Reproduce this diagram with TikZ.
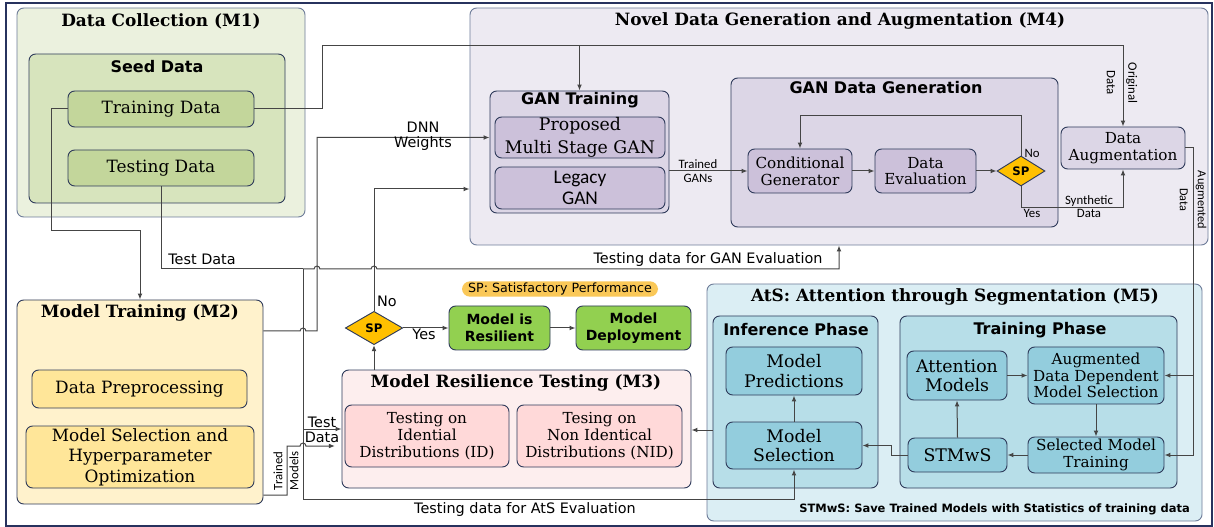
\documentclass[tikz,border=0pt]{standalone}
\usepackage{fontspec}
\setmainfont{DejaVu Serif}
\newfontfamily\calfont{Carlito}
\newfontfamily\dvsans{DejaVu Sans}
\usetikzlibrary{arrows.meta,shapes.geometric}

\definecolor{edgeout}{HTML}{6E7C99}
\definecolor{edgein}{HTML}{2E3A5A}
\definecolor{wirecol}{HTML}{454545}
\definecolor{framecol}{HTML}{27325E}
\definecolor{mAfill}{HTML}{EBF1DE}
\definecolor{mAseed}{HTML}{D7E4BD}
\definecolor{mAnode}{HTML}{C3D69B}
\definecolor{mBfill}{HTML}{FFF2CC}
\definecolor{mBnode}{HTML}{FFE699}
\definecolor{mCfill}{HTML}{FDEEEE}
\definecolor{mCnode}{HTML}{FFD9D9}
\definecolor{mDfill}{HTML}{EDEAF2}
\definecolor{mDsub}{HTML}{DCD6E6}
\definecolor{mDnode}{HTML}{CCC1DA}
\definecolor{mEfill}{HTML}{DBEEF4}
\definecolor{mEsub}{HTML}{B7DEE8}
\definecolor{mEnode}{HTML}{93CDDD}
\definecolor{okgreen}{HTML}{92D050}
\definecolor{spgold}{HTML}{FFC000}
\definecolor{pillcol}{HTML}{FAC858}

% a rounded box given by its corners (x1,y1) and (x2,y2), in pixel units
\newcommand\boxat[7]{%
  \pgfmathsetmacro\boxwd{(#5-#3)*0.75}%
  \pgfmathsetmacro\boxht{(#6-#4)*0.75}%
  \node[#2, minimum width=\boxwd pt, minimum height=\boxht pt]
    (#1) at ({(#3+#5)/2},{(#4+#6)/2}) {#7};}

\begin{document}
\begin{tikzpicture}[x=0.75pt,y=-0.75pt,
  box/.style={draw=edgein, line width=0.7pt, rounded corners=5pt, inner sep=0pt, align=center},
  panel/.style={box, draw=edgeout},
  ttl/.style={font=\fontsize{12.7}{14}\selectfont\bfseries},
  sttl/.style={font=\dvsans\fontsize{12}{14}\selectfont\bfseries},
  ser/.style={font=\fontsize{12.7}{14.5}\selectfont},
  serb/.style={font=\fontsize{13}{14.5}\selectfont},
  sers/.style={font=\fontsize{11.4}{12.6}\selectfont},
  wire/.style={draw=wirecol, line width=0.75pt},
  arr/.style={wire, -{Latex[length=4.5pt,width=3.6pt]}},
  lbl/.style={font=\dvsans\fontsize{10.8}{11.5}\selectfont, inner sep=1pt, align=center},
  clbl/.style={font=\calfont\fontsize{9.6}{10}\selectfont, inner sep=1pt, align=center},
  dia/.style={diamond, draw=edgein, fill=spgold, line width=0.7pt, inner sep=0pt,
    font=\dvsans\fontsize{8.8}{10}\selectfont\bfseries},
  gbox/.style={box, fill=okgreen, font=\dvsans\fontsize{10.5}{12.5}\selectfont\bfseries}
]
\useasboundingbox (0,0) rectangle (1214,527);
\fill[white] (0,0) rectangle (1214,527);
\draw[framecol, line width=1pt] (6,3) rectangle (1212,526);

% ---------------- Data Collection (M1)
\boxat{mA}{panel, fill=mAfill}{17}{8}{305}{217}{}
\node[ttl] at (161,21) {Data Collection (M1)};
\boxat{seed}{box, fill=mAseed}{29}{54}{285}{203}{}
\node[sttl] at (157,67) {Seed Data};
\boxat{trd}{box, fill=mAnode, ser}{68}{91}{254}{127}{Training Data}
\boxat{tsd}{box, fill=mAnode, ser}{68}{150}{254}{186}{Testing Data}

% ---------------- Model Training (M2)
\boxat{mB}{box, fill=mBfill}{17}{300}{263}{504}{}
\node[ttl] at (140,313) {Model Training (M2)};
\boxat{prep}{box, fill=mBnode, ser}{32}{370}{247}{408}{Data Preprocessing}
\boxat{hpo}{box, fill=mBnode, font=\fontsize{12.7}{15.5}\selectfont}{26}{426}{254}{488}{Model Selection and\\Hyperparameter\\Optimization}

% ---------------- Model Resilience Testing (M3)
\boxat{mC}{box, fill=mCfill}{342}{370}{691}{488}{}
\node[ttl] at (516,383) {Model Resilience Testing (M3)};
\boxat{tid}{box, fill=mCnode, sers}{345}{405}{509}{467}{Testing on\\Idential\\Distributions (ID)}
\boxat{tnid}{box, fill=mCnode, sers}{517}{405}{682}{467}{Tesing on\\Non Identical\\Distributions (NID)}

% decision and deployment
\node[dia, minimum width=43pt, minimum height=25pt] (spB) at (374,328) {SP};
\boxat{mir}{gbox}{449}{306}{550}{350}{Model is\\Resilient}
\boxat{mdep}{gbox}{576}{306}{691}{350}{Model\\Deployment}
\node[fill=pillcol, rounded corners=6pt, minimum width=147pt, minimum height=11.5pt, inner sep=0pt,
  font=\dvsans\fontsize{9.5}{10}\selectfont] (legend) at (560,289) {SP: Satisfactory Performance};

% ---------------- Novel Data Generation and Augmentation (M4)
\boxat{mD}{panel, fill=mDfill}{470}{8}{1208}{245}{}
\node[ttl] at (840,21) {Novel Data Generation and Augmentation (M4)};
\boxat{gant}{box, fill=mDsub}{490}{91}{669}{213}{}
\node[sttl] at (580,100) {GAN Training};
\boxat{pmg}{box, fill=mDnode, font=\fontsize{13}{17}\selectfont}{495}{117}{665}{158}{Proposed\\Multi Stage GAN}
\boxat{lgan}{box, fill=mDnode, font=\calfont\fontsize{14.5}{16}\selectfont}{495}{167}{665}{209}{Legacy\\GAN}
\boxat{gdg}{box, fill=mDsub}{731}{78}{1058}{227}{}
\node[sttl] at (886,88) {GAN Data Generation};
\boxat{cg}{box, fill=mDnode, sers}{748}{149}{852}{193}{Conditional\\Generator}
\boxat{dev}{box, fill=mDnode, sers}{875}{149}{976}{193}{Data\\Evaluation}
\node[dia, minimum width=36pt, minimum height=22.5pt] (spA) at (1021,171) {SP};
\boxat{dau}{box, fill=mDsub, sers}{1061}{127}{1185}{169}{Data\\Augmentation}

% ---------------- AtS (M5)
\boxat{mE}{panel, fill=mEfill}{707}{284}{1202}{521}{}
\node[ttl] at (955,297) {AtS: Attention through Segmentation (M5)};
\boxat{infp}{box, fill=mEsub}{713}{316}{878}{488}{}
\node[sttl] at (796,330) {Inference Phase};
\boxat{mpred}{box, fill=mEnode, serb}{726}{347}{862}{395}{Model\\Predictions}
\boxat{msel}{box, fill=mEnode, serb}{726}{422}{862}{469}{Model\\Selection}
\boxat{trp}{box, fill=mEsub}{900}{316}{1177}{488}{}
\node[sttl] at (1040,330) {Training Phase};
\boxat{attm}{box, fill=mEnode, serb}{907}{351}{1007}{400}{Attention\\Models}
\boxat{addms}{box, fill=mEnode, sers}{1028}{347}{1164}{404}{Augmented\\Data Dependent\\Model Selection}
\boxat{smt}{box, fill=mEnode, sers}{1028}{437}{1164}{473}{Selected Model\\Training}
\boxat{stm}{box, fill=mEnode, serb}{908}{438}{1007}{472}{STMwS}
\node[font=\dvsans\fontsize{8.6}{10}\selectfont\bfseries, anchor=east, inner sep=0pt] (stmnote) at (1190,509)
  {STMwS: Save Trained Models with Statistics of training data};

% ---------------- connectors
\coordinate (tA) at (322,46);
\coordinate (lA) at (51,231);
\coordinate (jT) at (303,269);
\coordinate (wx) at (317,331);
\coordinate (tmx) at (287,495);
\coordinate (ax) at (1193,300);

% training data to GAN training and data augmentation
\draw[arr] (trd.east) -| (tA) -| (dau.north);
\draw[arr] (gant.north |- tA) -- (gant.north);
\node[clbl, rotate=-90, font=\calfont\fontsize{9.6}{16}\selectfont] at (1122,83) {Original\\Data};

% training data to model training
\draw[arr] (trd.west) -| (lA) -| (mB.north);

% testing data split
\draw[wire] (tsd.south) |- (jT);
\draw[arr] (jT) -- ([xshift=-2.2pt]jT -| wx) arc[start angle=180,end angle=0,radius=2.2pt]
  -- ([xshift=-2.2pt]jT -| spB.north) arc[start angle=180,end angle=0,radius=2.2pt]
  -| (mD.south);
\node[lbl] at (202,259) {Test Data};
\node[lbl] at (708,260) {Testing data for GAN Evaluation};
\draw[arr] (jT) |- (msel.south |- 0,499) -- (msel.south);
\node[lbl] at (525,510) {Testing data for AtS Evaluation};
\draw[arr] (jT |- 0,429) -- (mC.west |- 0,429);
\node[lbl] at (322,422) {Test};
\node[lbl] at (322,437) {Data};

% DNN weights from model training
\draw[arr] (mB.east |- wx) -- ([xshift=-2.2pt]jT |- wx) arc[start angle=180,end angle=0,radius=2.2pt]
  -- (wx) |- (gant.west |- pmg.west);
\node[lbl] at (423,136) {DNN\\Weights};

% trained models to resilience testing
\draw[arr, shorten >=5pt] (mB.east |- tmx) -- (tmx) |- ([xshift=-2.2pt]jT |- 0,446)
  arc[start angle=180,end angle=0,radius=2.2pt] -- (mC.west |- 0,446);
\node[clbl, rotate=90, font=\calfont\fontsize{9.6}{12}\selectfont] at (286,471) {Trained\\Models};

% resilience decision
\draw[arr] (mC.north -| spB) -- (spB.south);
\draw[arr] (spB.north) |- (mD.west |- 0,189);
\node[lbl] at (387,301) {No};
\draw[arr] (spB.east) -- (mir.west);
\node[lbl] at (424,334) {Yes};
\draw[arr] (mir) -- (mdep);

% GAN data generation loop
\draw[arr] (gant.east |- cg.west) -- (cg.west);
\node[clbl] at (698,171) {Trained\\GANs};
\draw[arr] (cg) -- (dev);
\draw[arr] (dev) -- (spA);
\draw[arr] (spA.north) |- (cg.north |- 0,116) -- (cg.north);
\node[clbl] at (1032,153) {No};
\draw[arr] (spA.south) -- ++(0,21) -| (dau.south);
\node[clbl] at (1032,213) {Yes};
\node[clbl, font=\calfont\fontsize{9.6}{9.8}\selectfont] at (1089,207) {Synthetic\\Data};

% augmented data into the training phase
\draw[arr] (dau.east) -| (smt.east -| ax) -- (smt.east);
\draw[arr] (addms.east -| ax) -- (addms.east);
\node[clbl, rotate=-90, font=\calfont\fontsize{9.2}{13.5}\selectfont] at (1193,200) {Augmented\\Data};

% AtS internals
\draw[arr] (attm.east) -- (addms.west);
\draw[arr] (addms.south) -- (smt.north);
\draw[arr] (smt.west) -- (stm.east);
\draw[arr] (stm.north) -- (attm.south);
\draw[arr] (stm.west) -- ++(-16,0) |- (msel.east);
\draw[arr] (msel.north) -- (mpred.south);
\draw[arr] (infp.west |- 0,430) -- (mC.east |- 0,430);
\end{tikzpicture}
\end{document}
